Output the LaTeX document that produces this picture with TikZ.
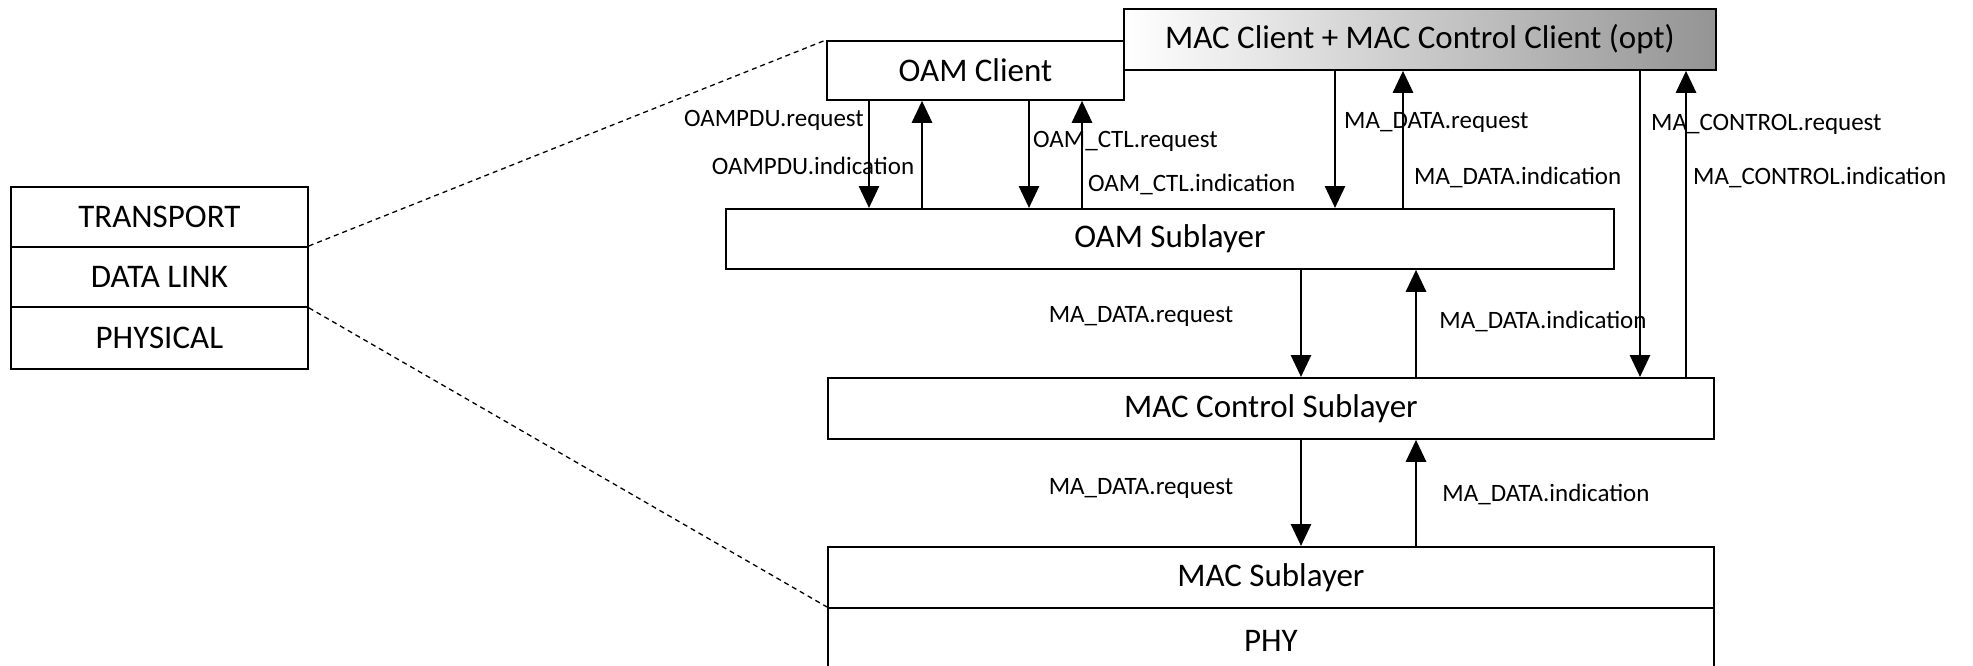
\documentclass[tikz,border=0pt]{standalone}
\usepackage{fontspec}
\setmainfont{Carlito}
\usetikzlibrary{arrows.meta}
\begin{document}
\begin{tikzpicture}[x=1pt,y=-1pt,
  box/.style={draw,line width=1.8pt,inner sep=0pt,anchor=north west,font=\fontsize{33}{40}\selectfont},
  lbl/.style={inner sep=0pt,font=\fontsize{25}{30}\selectfont},
  arr/.style={line width=2.8pt,-{Triangle[length=22pt,width=20pt]}},
  dashlink/.style={line width=1.3pt,dash pattern=on 5pt off 4pt}]
\useasboundingbox (0,0) rectangle (1973,666);
% left stack
\node[box,minimum width=297pt,minimum height=60pt] (tr) at (10,186) {TRANSPORT};
\node[box,minimum width=297pt,minimum height=60pt] (dl) at (10,246) {DATA LINK};
\node[box,minimum width=297pt,minimum height=62pt] (ph) at (10,306) {PHYSICAL};
% right stack
\node[box,minimum width=297pt,minimum height=59pt] (oamc) at (826,40) {OAM Client};
\node[box,minimum width=592pt,minimum height=61pt,left color=white,right color=black!42] (macc) at (1123,8) {MAC Client + MAC Control Client (opt)};
\node[box,minimum width=888pt,minimum height=60pt] (oams) at (725,208) {OAM Sublayer};
\node[box,minimum width=886pt,minimum height=61pt] (mcs) at (827,377) {MAC Control Sublayer};
\node[box,minimum width=886pt,minimum height=61pt] (macs) at (827,546) {MAC Sublayer};
\node[box,minimum width=886pt,minimum height=66pt] (phy) at (827,607) {PHY};
% dashed links
\draw[dashlink] (dl.north east) -- (oamc.north west);
\draw[dashlink] (dl.south east) -- (phy.north west);
% OAM client arrows
\draw[arr] (oamc.south -| 869,0) -- (oams.north -| 869,0);
\draw[arr] (oams.north -| 922,0) -- (oamc.south -| 922,0);
\draw[arr] (oamc.south -| 1029,0) -- (oams.north -| 1029,0);
\draw[arr] (oams.north -| 1082,0) -- (oamc.south -| 1082,0);
% MAC client arrows
\draw[arr] (macc.south -| 1335,0) -- (oams.north -| 1335,0);
\draw[arr] (oams.north -| 1403,0) -- (macc.south -| 1403,0);
\draw[arr] (macc.south -| 1640,0) -- (mcs.north -| 1640,0);
\draw[arr] (mcs.north -| 1686,0) -- (macc.south -| 1686,0);
% OAM sublayer <-> MAC control
\draw[arr] (oams.south -| 1301,0) -- (mcs.north -| 1301,0);
\draw[arr] (mcs.north -| 1416,0) -- (oams.south -| 1416,0);
% MAC control <-> MAC
\draw[arr] (mcs.south -| 1301,0) -- (macs.north -| 1301,0);
\draw[arr] (macs.north -| 1416,0) -- (mcs.south -| 1416,0);
% labels
\node[lbl,anchor=east] (l1) at (864,120) {OAMPDU.request};
\node[lbl] (l2) at (813,166) {OAMPDU.indication};
\node[lbl,anchor=west] (l3) at (1033,141) {OAM\_CTL.request};
\node[lbl,anchor=west] (l4) at (1088,184) {OAM\_CTL.indication};
\node[lbl,anchor=west] (l5) at (1344,122) {MA\_DATA.request};
\node[lbl,anchor=west] (l6) at (1414,177) {MA\_DATA.indication};
\node[lbl,anchor=west] (l7) at (1651,124) {MA\_CONTROL.request};
\node[lbl,anchor=west] (l8) at (1693,177) {MA\_CONTROL.indication};
\node[lbl] (l9) at (1141,316) {MA\_DATA.request};
\node[lbl] (l10) at (1543,321) {MA\_DATA.indication};
\node[lbl] (l11) at (1141,488) {MA\_DATA.request};
\node[lbl] (l12) at (1546,494) {MA\_DATA.indication};
\end{tikzpicture}
\end{document}
